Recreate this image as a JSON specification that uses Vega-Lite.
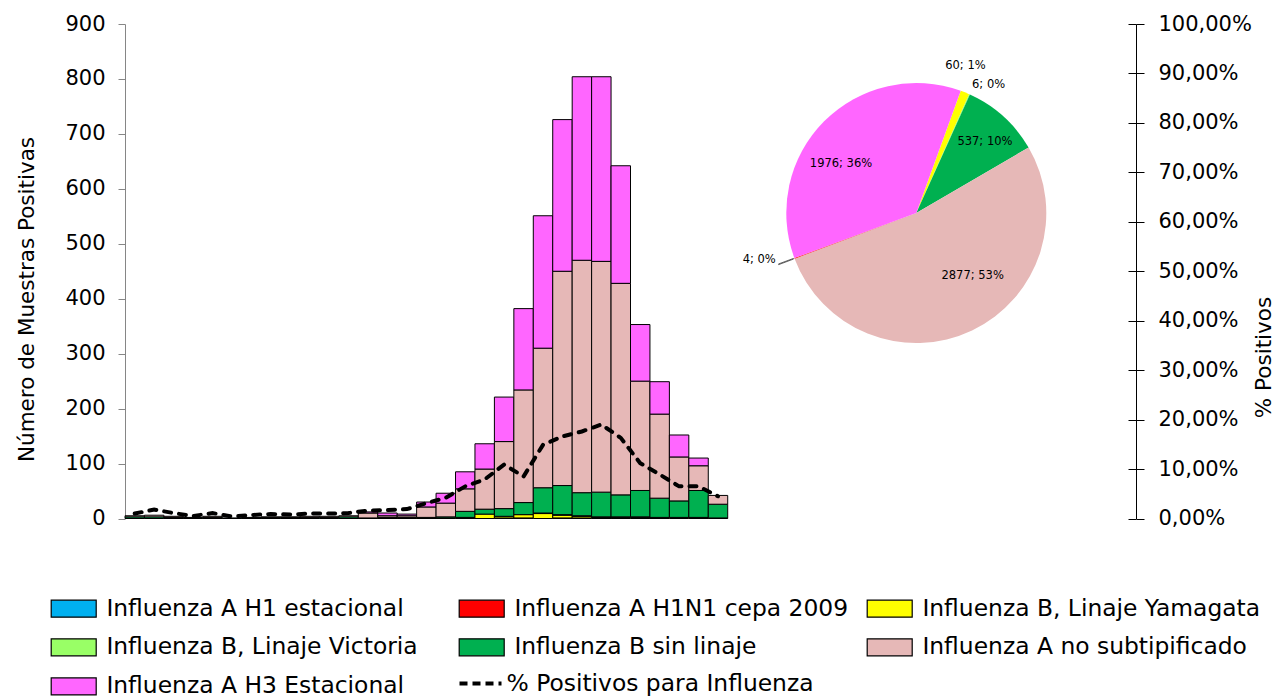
{
  "$schema": "https://vega.github.io/schema/vega-lite/v6.json",
  "width": 1011,
  "height": 494.5,
  "autosize": {"type": "none"},
  "padding": {"left": 125, "top": 24, "right": 140, "bottom": 179.5},
  "background": "white",
  "config": {
    "view": {"stroke": null},
    "font": "DejaVu Sans",
    "axis": {"grid": false, "labelColor": "black", "titleColor": "black", "titleFontWeight": "normal", "labelFont": "DejaVu Sans", "titleFont": "DejaVu Sans"}
  },
  "datasets": {
    "series": [
      {"serie": "Influenza A H1 estacional", "orden": 1},
      {"serie": "Influenza A H1N1 cepa 2009", "orden": 2},
      {"serie": "Influenza B, Linaje Yamagata", "orden": 3},
      {"serie": "Influenza B, Linaje Victoria", "orden": 4},
      {"serie": "Influenza B sin linaje", "orden": 5},
      {"serie": "Influenza A no subtipificado", "orden": 6},
      {"serie": "Influenza A H3 Estacional", "orden": 7}
    ],
    "muestras": [
      {"semana": 1, "serie": "Influenza B sin linaje", "n": 3},
      {"semana": 1, "serie": "Influenza A no subtipificado", "n": 2},
      {"semana": 2, "serie": "Influenza B sin linaje", "n": 3},
      {"semana": 2, "serie": "Influenza A no subtipificado", "n": 3},
      {"semana": 3, "serie": "Influenza B sin linaje", "n": 2},
      {"semana": 3, "serie": "Influenza A no subtipificado", "n": 2},
      {"semana": 4, "serie": "Influenza B sin linaje", "n": 1},
      {"semana": 4, "serie": "Influenza A no subtipificado", "n": 1},
      {"semana": 5, "serie": "Influenza B sin linaje", "n": 2},
      {"semana": 5, "serie": "Influenza A no subtipificado", "n": 2},
      {"semana": 6, "serie": "Influenza B sin linaje", "n": 1},
      {"semana": 7, "serie": "Influenza B sin linaje", "n": 1},
      {"semana": 7, "serie": "Influenza A no subtipificado", "n": 1},
      {"semana": 8, "serie": "Influenza B sin linaje", "n": 2},
      {"semana": 8, "serie": "Influenza A no subtipificado", "n": 1},
      {"semana": 9, "serie": "Influenza B sin linaje", "n": 2},
      {"semana": 9, "serie": "Influenza A no subtipificado", "n": 1},
      {"semana": 10, "serie": "Influenza B sin linaje", "n": 2},
      {"semana": 10, "serie": "Influenza A no subtipificado", "n": 2},
      {"semana": 11, "serie": "Influenza B sin linaje", "n": 2},
      {"semana": 11, "serie": "Influenza A no subtipificado", "n": 2},
      {"semana": 12, "serie": "Influenza B sin linaje", "n": 3},
      {"semana": 12, "serie": "Influenza A no subtipificado", "n": 2},
      {"semana": 13, "serie": "Influenza B sin linaje", "n": 1},
      {"semana": 13, "serie": "Influenza A no subtipificado", "n": 9},
      {"semana": 13, "serie": "Influenza A H3 Estacional", "n": 2},
      {"semana": 14, "serie": "Influenza B, Linaje Yamagata", "n": 1},
      {"semana": 14, "serie": "Influenza B sin linaje", "n": 1},
      {"semana": 14, "serie": "Influenza A no subtipificado", "n": 3},
      {"semana": 14, "serie": "Influenza A H3 Estacional", "n": 5},
      {"semana": 15, "serie": "Influenza B, Linaje Yamagata", "n": 1},
      {"semana": 15, "serie": "Influenza B sin linaje", "n": 1},
      {"semana": 15, "serie": "Influenza A no subtipificado", "n": 3},
      {"semana": 15, "serie": "Influenza A H3 Estacional", "n": 3},
      {"semana": 16, "serie": "Influenza B, Linaje Yamagata", "n": 1},
      {"semana": 16, "serie": "Influenza B sin linaje", "n": 1},
      {"semana": 16, "serie": "Influenza A no subtipificado", "n": 19},
      {"semana": 16, "serie": "Influenza A H3 Estacional", "n": 9},
      {"semana": 17, "serie": "Influenza B, Linaje Yamagata", "n": 1},
      {"semana": 17, "serie": "Influenza B sin linaje", "n": 2},
      {"semana": 17, "serie": "Influenza A no subtipificado", "n": 25},
      {"semana": 17, "serie": "Influenza A H3 Estacional", "n": 18},
      {"semana": 18, "serie": "Influenza B, Linaje Yamagata", "n": 2},
      {"semana": 18, "serie": "Influenza B sin linaje", "n": 11},
      {"semana": 18, "serie": "Influenza A no subtipificado", "n": 41},
      {"semana": 18, "serie": "Influenza A H3 Estacional", "n": 31},
      {"semana": 19, "serie": "Influenza B, Linaje Yamagata", "n": 8},
      {"semana": 19, "serie": "Influenza B sin linaje", "n": 9},
      {"semana": 19, "serie": "Influenza A no subtipificado", "n": 73},
      {"semana": 19, "serie": "Influenza A H3 Estacional", "n": 46},
      {"semana": 20, "serie": "Influenza A H1N1 cepa 2009", "n": 1},
      {"semana": 20, "serie": "Influenza B, Linaje Yamagata", "n": 3},
      {"semana": 20, "serie": "Influenza B sin linaje", "n": 14},
      {"semana": 20, "serie": "Influenza A no subtipificado", "n": 122},
      {"semana": 20, "serie": "Influenza A H3 Estacional", "n": 81},
      {"semana": 21, "serie": "Influenza A H1N1 cepa 2009", "n": 1},
      {"semana": 21, "serie": "Influenza B, Linaje Yamagata", "n": 6},
      {"semana": 21, "serie": "Influenza B sin linaje", "n": 22},
      {"semana": 21, "serie": "Influenza A no subtipificado", "n": 205},
      {"semana": 21, "serie": "Influenza A H3 Estacional", "n": 148},
      {"semana": 22, "serie": "Influenza B, Linaje Yamagata", "n": 9},
      {"semana": 22, "serie": "Influenza B, Linaje Victoria", "n": 1},
      {"semana": 22, "serie": "Influenza B sin linaje", "n": 46},
      {"semana": 22, "serie": "Influenza A no subtipificado", "n": 254},
      {"semana": 22, "serie": "Influenza A H3 Estacional", "n": 241},
      {"semana": 23, "serie": "Influenza A H1N1 cepa 2009", "n": 1},
      {"semana": 23, "serie": "Influenza B, Linaje Yamagata", "n": 5},
      {"semana": 23, "serie": "Influenza B, Linaje Victoria", "n": 1},
      {"semana": 23, "serie": "Influenza B sin linaje", "n": 53},
      {"semana": 23, "serie": "Influenza A no subtipificado", "n": 390},
      {"semana": 23, "serie": "Influenza A H3 Estacional", "n": 276},
      {"semana": 24, "serie": "Influenza A H1N1 cepa 2009", "n": 1},
      {"semana": 24, "serie": "Influenza B, Linaje Yamagata", "n": 3},
      {"semana": 24, "serie": "Influenza B, Linaje Victoria", "n": 1},
      {"semana": 24, "serie": "Influenza B sin linaje", "n": 42},
      {"semana": 24, "serie": "Influenza A no subtipificado", "n": 423},
      {"semana": 24, "serie": "Influenza A H3 Estacional", "n": 334},
      {"semana": 25, "serie": "Influenza B, Linaje Yamagata", "n": 2},
      {"semana": 25, "serie": "Influenza B, Linaje Victoria", "n": 1},
      {"semana": 25, "serie": "Influenza B sin linaje", "n": 45},
      {"semana": 25, "serie": "Influenza A no subtipificado", "n": 420},
      {"semana": 25, "serie": "Influenza A H3 Estacional", "n": 336},
      {"semana": 26, "serie": "Influenza B, Linaje Yamagata", "n": 2},
      {"semana": 26, "serie": "Influenza B, Linaje Victoria", "n": 1},
      {"semana": 26, "serie": "Influenza B sin linaje", "n": 40},
      {"semana": 26, "serie": "Influenza A no subtipificado", "n": 385},
      {"semana": 26, "serie": "Influenza A H3 Estacional", "n": 214},
      {"semana": 27, "serie": "Influenza B, Linaje Yamagata", "n": 2},
      {"semana": 27, "serie": "Influenza B, Linaje Victoria", "n": 1},
      {"semana": 27, "serie": "Influenza B sin linaje", "n": 48},
      {"semana": 27, "serie": "Influenza A no subtipificado", "n": 199},
      {"semana": 27, "serie": "Influenza A H3 Estacional", "n": 103},
      {"semana": 28, "serie": "Influenza B, Linaje Yamagata", "n": 2},
      {"semana": 28, "serie": "Influenza B sin linaje", "n": 35},
      {"semana": 28, "serie": "Influenza A no subtipificado", "n": 153},
      {"semana": 28, "serie": "Influenza A H3 Estacional", "n": 59},
      {"semana": 29, "serie": "Influenza B, Linaje Yamagata", "n": 2},
      {"semana": 29, "serie": "Influenza B sin linaje", "n": 30},
      {"semana": 29, "serie": "Influenza A no subtipificado", "n": 80},
      {"semana": 29, "serie": "Influenza A H3 Estacional", "n": 40},
      {"semana": 30, "serie": "Influenza B, Linaje Yamagata", "n": 2},
      {"semana": 30, "serie": "Influenza B sin linaje", "n": 49},
      {"semana": 30, "serie": "Influenza A no subtipificado", "n": 45},
      {"semana": 30, "serie": "Influenza A H3 Estacional", "n": 14},
      {"semana": 31, "serie": "Influenza B, Linaje Yamagata", "n": 1},
      {"semana": 31, "serie": "Influenza B sin linaje", "n": 25},
      {"semana": 31, "serie": "Influenza A no subtipificado", "n": 16}
    ],
    "positividad": [
      {"semana": 1, "pct": 0.010}, {"semana": 2, "pct": 0.018}, {"semana": 3, "pct": 0.011},
      {"semana": 4, "pct": 0.005}, {"semana": 5, "pct": 0.011}, {"semana": 6, "pct": 0.004},
      {"semana": 7, "pct": 0.007}, {"semana": 8, "pct": 0.009}, {"semana": 9, "pct": 0.008},
      {"semana": 10, "pct": 0.010}, {"semana": 11, "pct": 0.010}, {"semana": 12, "pct": 0.011},
      {"semana": 13, "pct": 0.016}, {"semana": 14, "pct": 0.017}, {"semana": 15, "pct": 0.019},
      {"semana": 16, "pct": 0.031}, {"semana": 17, "pct": 0.042}, {"semana": 18, "pct": 0.065},
      {"semana": 19, "pct": 0.079}, {"semana": 20, "pct": 0.109}, {"semana": 21, "pct": 0.085},
      {"semana": 22, "pct": 0.149}, {"semana": 23, "pct": 0.166}, {"semana": 24, "pct": 0.176},
      {"semana": 25, "pct": 0.190}, {"semana": 26, "pct": 0.163}, {"semana": 27, "pct": 0.112},
      {"semana": 28, "pct": 0.089}, {"semana": 29, "pct": 0.065}, {"semana": 30, "pct": 0.065},
      {"semana": 31, "pct": 0.045}
    ],
    "pastel": [
      {"serie": "Influenza B, Linaje Yamagata", "n": 60, "etiqueta": "60; 1%", "orden": 1},
      {"serie": "Influenza B, Linaje Victoria", "n": 6, "etiqueta": "6; 0%", "orden": 2},
      {"serie": "Influenza B sin linaje", "n": 537, "etiqueta": "537; 10%", "orden": 3},
      {"serie": "Influenza A no subtipificado", "n": 2877, "etiqueta": "2877; 53%", "orden": 4},
      {"serie": "Influenza A H1N1 cepa 2009", "n": 4, "etiqueta": "4; 0%", "orden": 5},
      {"serie": "Influenza A H3 Estacional", "n": 1976, "etiqueta": "1976; 36%", "orden": 6}
    ]
  },
  "layer": [
    {
      "data": {"name": "muestras"},
      "transform": [{"lookup": "serie", "from": {"data": {"name": "series"}, "key": "serie", "fields": ["orden"]}}],
      "mark": {"type": "bar", "stroke": "black", "strokeWidth": 1},
      "encoding": {
        "x": {
          "field": "semana", "type": "ordinal",
          "scale": {"domain": [1,2,3,4,5,6,7,8,9,10,11,12,13,14,15,16,17,18,19,20,21,22,23,24,25,26,27,28,29,30,31,32,33,34,35,36,37,38,39,40,41,42,43,44,45,46,47,48,49,50,51,52], "paddingInner": 0, "paddingOuter": 0},
          "axis": {
            "title": "Semana Epidemiológica", "titleFontSize": 18.5, "titleX": 505.5, "titleY": 59.5,
            "titleAlign": "center", "titleBaseline": "middle",
            "labelAngle": 0, "labelFontSize": 21, "labelBaseline": "middle", "labelPadding": 25,
            "labelExpr": "datum.value % 2 == 1 ? datum.label : ''",
            "labelOverlap": false, "labelFlush": false,
            "tickBand": "extent", "tickSize": 7, "tickColor": "#868686", "domainColor": "#868686"
          }
        },
        "y": {
          "field": "n", "type": "quantitative", "stack": "zero",
          "scale": {"domain": [0, 900], "nice": false},
          "axis": {
            "orient": "left", "title": "Número de Muestras Positivas", "titleFontSize": 21.5,
            "titleAngle": -90, "titleX": -98, "titleY": 275, "titleAlign": "center", "titleBaseline": "middle",
            "values": [0,100,200,300,400,500,600,700,800,900],
            "labelFontSize": 21, "labelPadding": 13, "tickSize": 7, "tickColor": "#868686", "domainColor": "#868686"
          }
        },
        "color": {
          "field": "serie", "type": "nominal",
          "scale": {
            "domain": ["Influenza A H1 estacional", "Influenza A H1N1 cepa 2009", "Influenza B, Linaje Yamagata", "Influenza B, Linaje Victoria", "Influenza B sin linaje", "Influenza A no subtipificado", "Influenza A H3 Estacional"],
            "range": ["#00B0F0", "#FF0000", "#FFFF00", "#99FF66", "#00B050", "#E6B8B7", "#FF66FF"]
          },
          "legend": {
            "orient": "none", "legendX": -63, "legendY": 572.5, "columns": 3, "direction": "horizontal", "title": null,
            "gridAlign": "all", "columnPadding": 11, "rowPadding": 14.1, "padding": 0,
            "symbolSize": 400, "symbolType": "M-2.25,-0.85H2.25V0.85H-2.25Z",
            "symbolStrokeColor": "black", "symbolStrokeWidth": 1.2,
            "labelFontSize": 23.4, "labelFont": "DejaVu Sans", "labelColor": "black", "labelLimit": 600, "labelOffset": 21
          }
        },
        "order": {"field": "orden", "type": "quantitative"}
      }
    },
    {
      "data": {"name": "positividad"},
      "mark": {"type": "line", "strokeWidth": 4, "strokeDash": [7, 8], "strokeCap": "round"},
      "encoding": {
        "x": {"field": "semana", "type": "ordinal", "axis": null},
        "y": {
          "field": "pct", "type": "quantitative",
          "scale": {"domain": [0, 1], "nice": false},
          "axis": {
            "orient": "right", "title": "% Positivos", "titleFontSize": 21.5,
            "titleAngle": -90, "titleX": 128, "titleY": 333, "titleAlign": "center", "titleBaseline": "middle",
            "values": [0, 0.1, 0.2, 0.3, 0.4, 0.5, 0.6, 0.7, 0.8, 0.9, 1],
            "labelExpr": "replace(format(datum.value, '.2%'), '.', ',')",
            "labelFontSize": 21, "labelPadding": 14, "tickSize": 8, "tickColor": "black", "domainColor": "black"
          }
        },
        "stroke": {
          "datum": "% Positivos para Influenza", "type": "nominal",
          "scale": {"range": ["#000000"]},
          "legend": {
            "orient": "none", "legendX": 343.5, "legendY": 647.5, "title": null, "padding": 0,
            "symbolSize": 400, "symbolType": "M-2.1,0H2.1",
            "symbolStrokeColor": "black", "symbolStrokeWidth": 4, "symbolDash": [8, 5],
            "labelFontSize": 23.4, "labelFont": "DejaVu Sans", "labelColor": "black", "labelLimit": 600, "labelOffset": 14
          }
        }
      }
    },
    {
      "data": {"name": "pastel"},
      "encoding": {
        "x": {"datum": 41, "type": "ordinal", "bandPosition": 0.7, "axis": null},
        "y": {
          "datum": 556, "type": "quantitative", "scale": {"domain": [0, 900], "nice": false},
          "axis": {"orient": "right", "values": [0, 90, 180, 270, 360, 450, 540, 630, 720, 810, 900], "labels": false, "domain": false, "title": null, "tickSize": -8, "tickColor": "black", "grid": false}
        },
        "theta": {"field": "n", "type": "quantitative", "stack": true, "scale": {"range": [0.349, 6.632]}},
        "order": {"field": "orden", "type": "quantitative"}
      },
      "layer": [
        {"mark": {"type": "arc", "outerRadius": 130}, "encoding": {"color": {"field": "serie", "type": "nominal", "legend": null}}},
        {"mark": {"type": "arc", "innerRadius": 131, "outerRadius": 147, "stroke": "#404040", "strokeWidth": 0.8, "fill": null},
         "encoding": {"detail": {"field": "serie"}, "strokeOpacity": {"condition": {"test": "datum.serie === 'Influenza A H1N1 cepa 2009'", "value": 1}, "value": 0}}},
        {"mark": {"type": "text", "radius": 158, "dx": -10, "fontSize": 11.5, "align": "center", "baseline": "middle", "color": "black"},
         "encoding": {"detail": {"field": "serie"}, "text": {"condition": {"test": "datum.serie === 'Influenza B, Linaje Yamagata'", "field": "etiqueta"}, "value": ""}}},
        {"mark": {"type": "text", "radius": 140, "dx": 15, "fontSize": 11.5, "align": "center", "baseline": "middle", "color": "black"},
         "encoding": {"detail": {"field": "serie"}, "text": {"condition": {"test": "datum.serie === 'Influenza B, Linaje Victoria'", "field": "etiqueta"}, "value": ""}}},
        {"mark": {"type": "text", "radius": 95, "dx": 5, "fontSize": 11.5, "align": "center", "baseline": "middle", "color": "black"},
         "encoding": {"detail": {"field": "serie"}, "text": {"condition": {"test": "datum.serie === 'Influenza B sin linaje'", "field": "etiqueta"}, "value": ""}}},
        {"mark": {"type": "text", "radius": 80, "dx": 22, "dy": -9, "fontSize": 11.5, "align": "center", "baseline": "middle", "color": "black"},
         "encoding": {"detail": {"field": "serie"}, "text": {"condition": {"test": "datum.serie === 'Influenza A no subtipificado'", "field": "etiqueta"}, "value": ""}}},
        {"mark": {"type": "text", "radius": 150, "dy": -5, "fontSize": 11.5, "align": "right", "baseline": "middle", "color": "black"},
         "encoding": {"detail": {"field": "serie"}, "text": {"condition": {"test": "datum.serie === 'Influenza A H1N1 cepa 2009'", "field": "etiqueta"}, "value": ""}}},
        {"mark": {"type": "text", "radius": 90, "dx": -11.5, "dy": 14.5, "fontSize": 11.5, "align": "center", "baseline": "middle", "color": "black"},
         "encoding": {"detail": {"field": "serie"}, "text": {"condition": {"test": "datum.serie === 'Influenza A H3 Estacional'", "field": "etiqueta"}, "value": ""}}}
      ]
    }
  ],
  "resolve": {"scale": {"y": "independent"}}
}
